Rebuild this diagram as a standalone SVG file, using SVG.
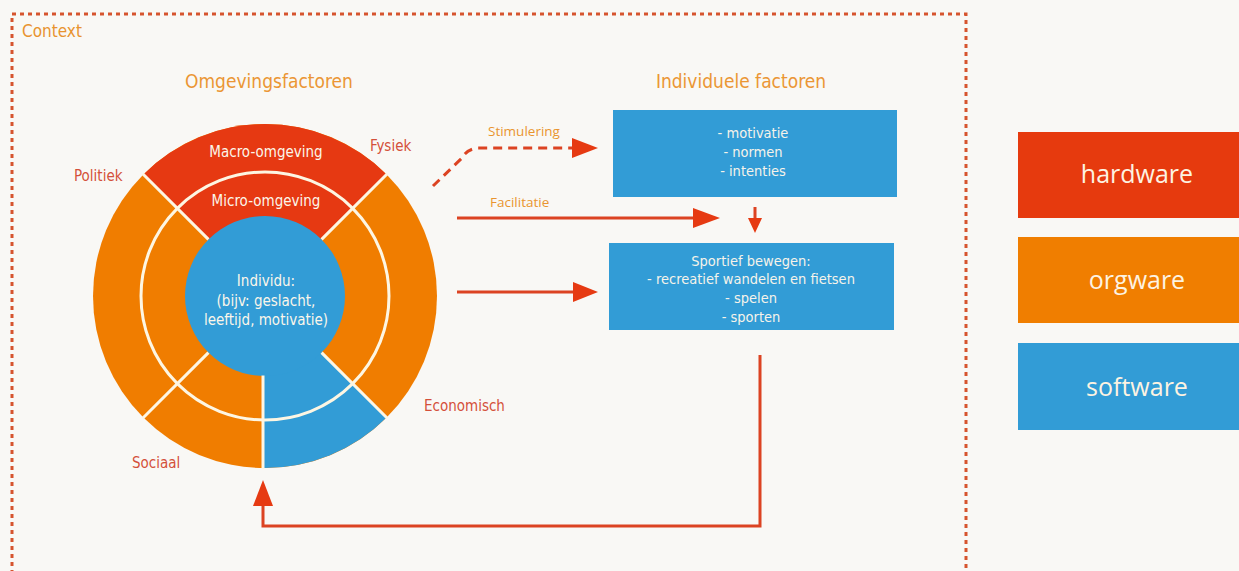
<svg xmlns="http://www.w3.org/2000/svg" width="1239" height="571" viewBox="0 0 1239 571">
<defs>
<style>
.cond{font-family:"Liberation Sans Narrow","DejaVu Sans Condensed","Liberation Sans",sans-serif;font-stretch:condensed;}
.title{font-size:19px;fill:#eb9634;text-anchor:middle;}
.lbl{font-size:15px;fill:#d4503a;}
.wt{font-size:15px;fill:#fbf6ea;text-anchor:middle;}
.bx{font-size:14.5px;fill:#f6f3ea;text-anchor:middle;}
.arr{font-family:"Open Sans","Liberation Sans",sans-serif;font-size:13.5px;fill:#e9952f;}
.leg{font-family:"Open Sans","Liberation Sans",sans-serif;font-size:25px;fill:#fdf3e2;text-anchor:middle;}
.div{stroke:#fdf6e3;stroke-width:3;fill:none;}
.con{stroke:#dc4322;stroke-width:3;fill:none;}
.head{fill:#e63a12;}
</style>
</defs>
<rect width="1239" height="571" fill="#f9f8f5"/>
<g id="context">
<rect x="12" y="14" width="954" height="570" fill="none" stroke="#d6542e" stroke-width="3" stroke-dasharray="4 4"/>
<text class="cond" x="22" y="37" font-size="17" fill="#e8932f">Context</text>
</g>
<g id="omgevingsfactoren">
<text class="cond title" x="269" y="88">Omgevingsfactoren</text>
<circle cx="265" cy="296" r="172" fill="#f07d00"/>
<path d="M265,296 L143.4,174.4 A172,172 0 0 1 386.6,174.4 Z" fill="#e63912"/>
<path d="M265,296 L386.6,417.6 A172,172 0 0 1 263,468 L263,296 Z" fill="#329cd6"/>
<circle cx="265" cy="296" r="80" fill="#329cd6"/>
<circle class="div" cx="265" cy="296" r="124"/>
<path class="div" d="M208.4,239.4 L142.7,173.7 M321.6,239.4 L387.3,173.7 M208.4,352.6 L142.7,418.3 M321.6,352.6 L387.3,418.3 M263,375.5 L263,469"/>
<text class="cond wt" x="266" y="157">Macro-omgeving</text>
<text class="cond wt" x="266" y="206">Micro-omgeving</text>
<text class="cond wt" x="266" y="286">Individu:</text>
<text class="cond wt" x="266" y="306">(bijv: geslacht,</text>
<text class="cond wt" x="266" y="325">leeftijd, motivatie)</text>
<text class="cond lbl" x="74" y="181">Politiek</text>
<text class="cond lbl" x="370" y="151">Fysiek</text>
<text class="cond lbl" x="424" y="411">Economisch</text>
<text class="cond lbl" x="132" y="468">Sociaal</text>
</g>
<g id="individuele-factoren">
<text class="cond title" x="741" y="88">Individuele factoren</text>
</g>
<g id="box-motivatie">
<rect x="613" y="110" width="284" height="87" fill="#329cd6"/>
<text class="cond bx" x="753" y="138">- motivatie</text>
<text class="cond bx" x="753" y="157">- normen</text>
<text class="cond bx" x="753" y="176">- intenties</text>
</g>
<g id="box-sportief">
<rect x="609" y="243" width="285" height="87" fill="#329cd6"/>
<text class="cond bx" x="751" y="266">Sportief bewegen:</text>
<text class="cond bx" x="751" y="284">- recreatief wandelen en fietsen</text>
<text class="cond bx" x="751" y="303">- spelen</text>
<text class="cond bx" x="751" y="322">- sporten</text>
</g>
<g id="legend-hardware">
<rect x="1018" y="132" width="221" height="86" fill="#e63a0e"/>
<text class="leg" x="1137" y="183">hardware</text>
</g>
<g id="legend-orgware">
<rect x="1018" y="237" width="221" height="86" fill="#f07e00"/>
<text class="leg" x="1137" y="289">orgware</text>
</g>
<g id="legend-software">
<rect x="1018" y="343" width="221" height="87" fill="#329cd6"/>
<text class="leg" x="1137" y="396">software</text>
</g>
<g id="connectors">
<path class="con" d="M433,186 L462,158 Q467,149 478,148 L574,148" stroke-dasharray="9 6"/>
<polygon class="head" points="572,138 598,148 572,158"/>
<text class="arr" x="488" y="136">Stimulering</text>
<path class="con" d="M457,218 L695,218"/>
<polygon class="head" points="693,208 720,218 693,228"/>
<text class="arr" x="490" y="207">Facilitatie</text>
<path class="con" d="M457,292 L575,292"/>
<polygon class="head" points="573,282 598,292 573,302"/>
<path class="con" d="M755,207 L755,220"/>
<polygon class="head" points="748,218 755,233 762,218"/>
<path class="con" d="M760,355 L760,526 L263,526 L263,503"/>
<polygon class="head" points="253,506 263,480 273,506"/>
</g>
</svg>
